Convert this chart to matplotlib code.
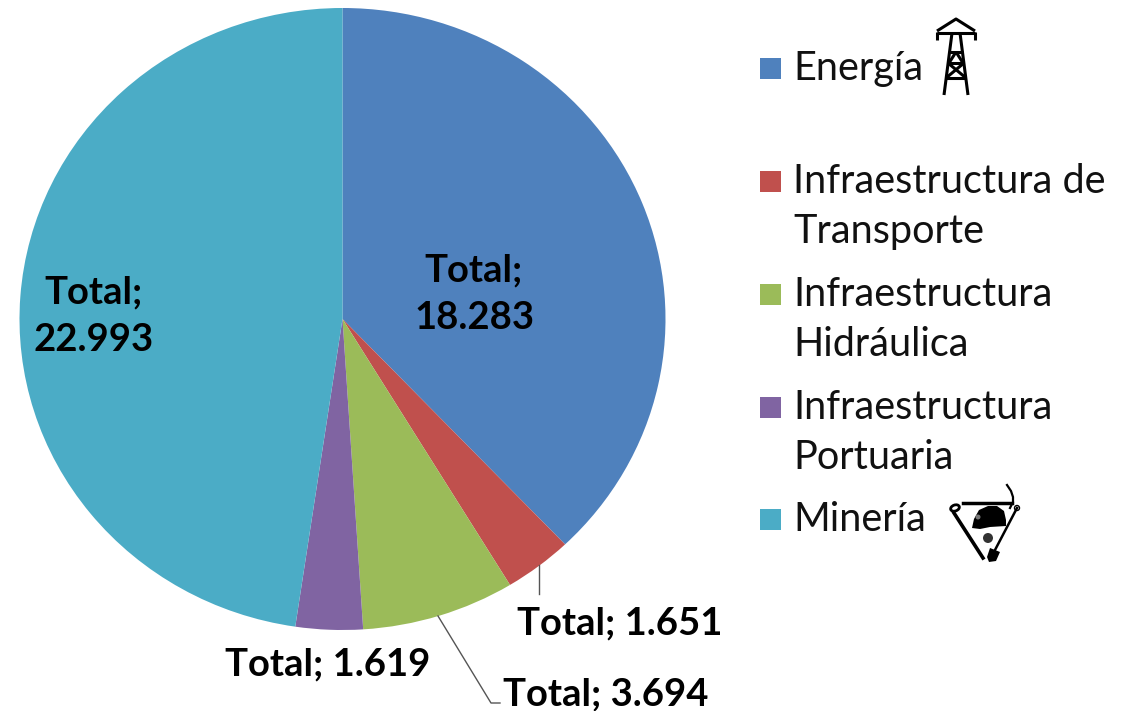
"""
Pie of totals by sector, legend with small hand drawn icons.
Overlay axes uses image pixels so labels and icons are easy to place.
"""

import matplotlib
matplotlib.use("Agg")
import matplotlib.pyplot as plt
from matplotlib.patches import Circle, Ellipse, Polygon, Rectangle

# ---------------------------------------------------------------------------
# Data
# ---------------------------------------------------------------------------

SECTORS = ["Energía", "Infraestructura de\nTransporte", "Infraestructura\nHidráulica",
           "Infraestructura\nPortuaria", "Minería"]
TOTALS = [18283, 1651, 3694, 1619, 22993]
LABELS = ["Total;\n18.283", "Total; 1.651", "Total; 3.694", "Total; 1.619", "Total;\n22.993"]

# ---------------------------------------------------------------------------
# Style
# ---------------------------------------------------------------------------

COLORS = ["#4F81BD", "#C0504D", "#9BBB59", "#8064A2", "#4BACC6"]
FONT = "Lato"
W, H = 1124, 711
CX, CY, RX, RY = 342.5, 319, 323, 311   # the source picture is slightly stretched

LABEL_POS = [(474, 294), (620, 623), (606, 694), (328, 664), (94, 316)]
LEGEND_Y = [68, 181, 294, 407, 519]   # centre of the square / first line

fig = plt.figure(figsize=(W / 100, H / 100), dpi=100, facecolor="white")

# pie axes, placed by pixels
ax_pie = fig.add_axes([(CX - RX) / W, (H - CY - RY) / H, 2 * RX / W, 2 * RY / H])
ax_pie.pie(TOTALS, colors=COLORS, startangle=90, counterclock=False, radius=1,
           wedgeprops={"linewidth": 0})
ax_pie.set_aspect("auto")
ax_pie.set_xlim(-1, 1)
ax_pie.set_ylim(-1, 1)

# overlay in pixel coordinates
ax = fig.add_axes([0, 0, 1, 1])
ax.set_xlim(0, W)
ax.set_ylim(H, 0)
ax.axis("off")
ax.patch.set_alpha(0)

# ── data labels ─────────────────────────────────────────────────────────────
for lab, (x, y) in zip(LABELS, LABEL_POS):
    ax.text(x, y, lab, ha="center", va="center", fontsize=27.5, fontweight="bold",
            family=FONT, color="black", linespacing=1.5)

# leader lines
ax.plot([539, 539], [565, 594], color="#555555", lw=1)
ax.plot([438, 491, 500], [616, 703, 703], color="#555555", lw=1)

# ── legend ──────────────────────────────────────────────────────────────────
for name, col, y in zip(SECTORS, COLORS, LEGEND_Y):
    ax.add_patch(Rectangle((760, y - 10.5), 21, 21, facecolor=col, edgecolor="none"))
    ax.text(793, y + 12, name.split("\n")[0], ha="left", va="baseline", fontsize=28.5,
            family=FONT, color="#111111")
    if "\n" in name:
        ax.text(793, y + 62, name.split("\n")[1], ha="left", va="baseline", fontsize=28.5,
                family=FONT, color="#111111")

# ── tower icon ──────────────────────────────────────────────────────────────
tower = [
    ([937, 956, 975], [31, 19, 31]),
    ([937, 975], [33, 33]),
    ([937, 937], [32, 40]),
    ([975, 975], [32, 40]),
    ([952, 944], [33, 95]),
    ([960, 968], [33, 95]),
    ([949, 963], [52, 52]),
    ([948, 964], [63, 63]),
    ([946, 966], [78, 78]),
    ([956, 949], [52, 63]),
    ([956, 963], [52, 63]),
    ([948, 966], [63, 78]),
    ([964, 946], [63, 78]),
]
for xs, ys in tower:
    ax.plot(xs, ys, color="black", lw=2.2, solid_capstyle="butt")

# ── miner icon ──────────────────────────────────────────────────────────────
ax.plot([963, 1012], [503, 503], color="black", lw=2.5)
ax.plot([1007, 1011, 1013, 1013, 1010], [485, 491, 497, 502, 508], color="black", lw=1.6)
ax.add_patch(Polygon([[972, 528], [974, 519], [979, 510], [988, 506], [997, 506], [1004, 511],
                      [1006, 520], [1006, 526], [990, 527], [980, 529]],
                     facecolor="black", edgecolor="none"))
ax.add_patch(Circle((978, 517), 2.5, facecolor="#777777", edgecolor="none"))
ax.add_patch(Ellipse((955, 508), 9, 6, angle=-20, facecolor="white", edgecolor="black", lw=2))
ax.plot([954, 983], [513, 558], color="black", lw=2.6)
ax.plot([1017, 995], [508, 550], color="black", lw=1.8)
ax.add_patch(Circle((1017, 508), 2.5, facecolor="white", edgecolor="black", lw=1))
ax.add_patch(Polygon([[990, 548], [1000, 552], [996, 561], [989, 562], [987, 557]],
                     facecolor="black", edgecolor="none"))
ax.add_patch(Circle((988, 538), 5, facecolor="#333333", edgecolor="none"))

fig.savefig("out.png", dpi=100, facecolor="white")
